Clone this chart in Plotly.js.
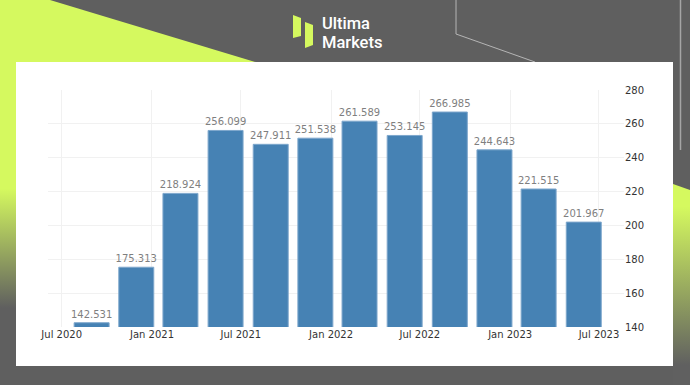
<!DOCTYPE html>
<html>
<head>
<meta charset="utf-8">
<script src="https://cdn.plot.ly/plotly-3.0.1.min.js"></script>
<style>
  html, body { margin: 0; padding: 0; }
  body { width: 690px; height: 385px; position: relative; overflow: hidden; background: #5f5f5f; font-family: Roboto, "Liberation Sans", sans-serif; }
  #bg { position: absolute; left: 0; top: 0; }
  #panel { position: absolute; left: 16px; top: 62px; width: 657px; height: 304px; background: #ffffff; }
  #chart { position: absolute; left: 0; top: 0; width: 657px; height: 304px; }
  .logo { position: absolute; left: 322px; color: #ffffff; font-family: Roboto, "Liberation Sans", sans-serif; font-size: 16.5px; line-height: 19px; height: 19px; font-weight: 500; white-space: nowrap; }
</style>
</head>
<body>
<svg id="bg" width="690" height="385" xmlns="http://www.w3.org/2000/svg">
  <defs>
    <linearGradient id="gl" x1="0" y1="0" x2="0" y2="385" gradientUnits="userSpaceOnUse">
      <stop offset="0" stop-color="#d5f95f"/>
      <stop offset="0.49" stop-color="#d5f95f"/>
      <stop offset="0.80" stop-color="#5f5f5f"/>
    </linearGradient>
    <linearGradient id="gr" x1="0" y1="185" x2="0" y2="365" gradientUnits="userSpaceOnUse">
      <stop offset="0" stop-color="#d5f95f"/>
      <stop offset="0.12" stop-color="#d5f95f"/>
      <stop offset="1" stop-color="#606060"/>
    </linearGradient>
  </defs>
  <polygon points="0,0 50,0 262,64 262,385 0,385" fill="url(#gl)"/>
  <polygon points="673,184 690,190 690,385 673,385" fill="url(#gr)"/>
  <polyline points="456,0 456,34 535,62" fill="none" stroke="#b5b5b5" stroke-width="1"/>
  <line x1="680.5" y1="0" x2="680.5" y2="150" stroke="#a5a5a5" stroke-width="1.5"/>
  <polygon points="293,15 301,18 301,36 293,38" fill="#d5f95f"/>
  <polygon points="305,22 313,25 313,45 305,48" fill="#d5f95f"/>
</svg>
<div class="logo" style="top:14px;">Ultima</div>
<div class="logo" style="top:33px;">Markets</div>
<div id="panel"><div id="chart"></div></div>
<script>
// Data
const dates = ["2020-08-31", "2020-11-30", "2021-02-28", "2021-05-31", "2021-08-31", "2021-11-30",
               "2022-02-28", "2022-05-31", "2022-08-31", "2022-11-30", "2023-02-28", "2023-05-31"];
const values = [142.531, 175.313, 218.924, 256.099, 247.911, 251.538,
                261.589, 253.145, 266.985, 244.643, 221.515, 201.967];
const labels = ["142.531", "175.313", "218.924", "256.099", "247.911", "251.538",
                "261.589", "253.145", "266.985", "244.643", "221.515", "201.967"];
const yTicks = [140, 160, 180, 200, 220, 240, 260, 280];

const DAY = 86400000;
const barWidth = 71.3 * DAY;

const trace = {
  type: "bar",
  x: dates,
  y: values,
  width: dates.map(() => barWidth),
  text: labels,
  texttemplate: "%{text}",
  textposition: "outside",
  constraintext: "none",
  cliponaxis: false,
  textfont: { family: "DejaVu Sans", size: 10, color: "#7f7f7f" },
  marker: { color: "#4682b4", line: { color: "#7ea7cc", width: 1 } },
  hoverinfo: "skip"
};

const layout = {
  width: 657,
  height: 304,
  margin: { l: 32, r: 49, t: 28, b: 39 },
  paper_bgcolor: "#ffffff",
  plot_bgcolor: "#ffffff",
  showlegend: false,
  font: { family: "DejaVu Sans", size: 10, color: "#333333" },
  xaxis: {
    type: "date",
    range: ["2020-06-03 02:00", "2023-08-21"],
    tick0: "2020-07-01",
    dtick: "M6",
    tickformat: "%b %Y",
    showgrid: true,
    gridcolor: "#f1f1f1",
    gridwidth: 1,
    zeroline: false,
    showline: false,
    ticks: "",
    tickfont: { family: "DejaVu Sans", size: 10, color: "#333333" }
  },
  yaxis: {
    side: "right",
    range: [140, 280],
    tickvals: yTicks,
    ticktext: yTicks.map(String),
    showgrid: true,
    gridcolor: "#f1f1f1",
    gridwidth: 1,
    zeroline: false,
    showline: false,
    ticks: "",
    tickfont: { family: "DejaVu Sans", size: 10, color: "#333333" }
  },
  bargap: 0
};

Plotly.newPlot("chart", [trace], layout, { displayModeBar: false, staticPlot: true });
</script>
</body>
</html>
